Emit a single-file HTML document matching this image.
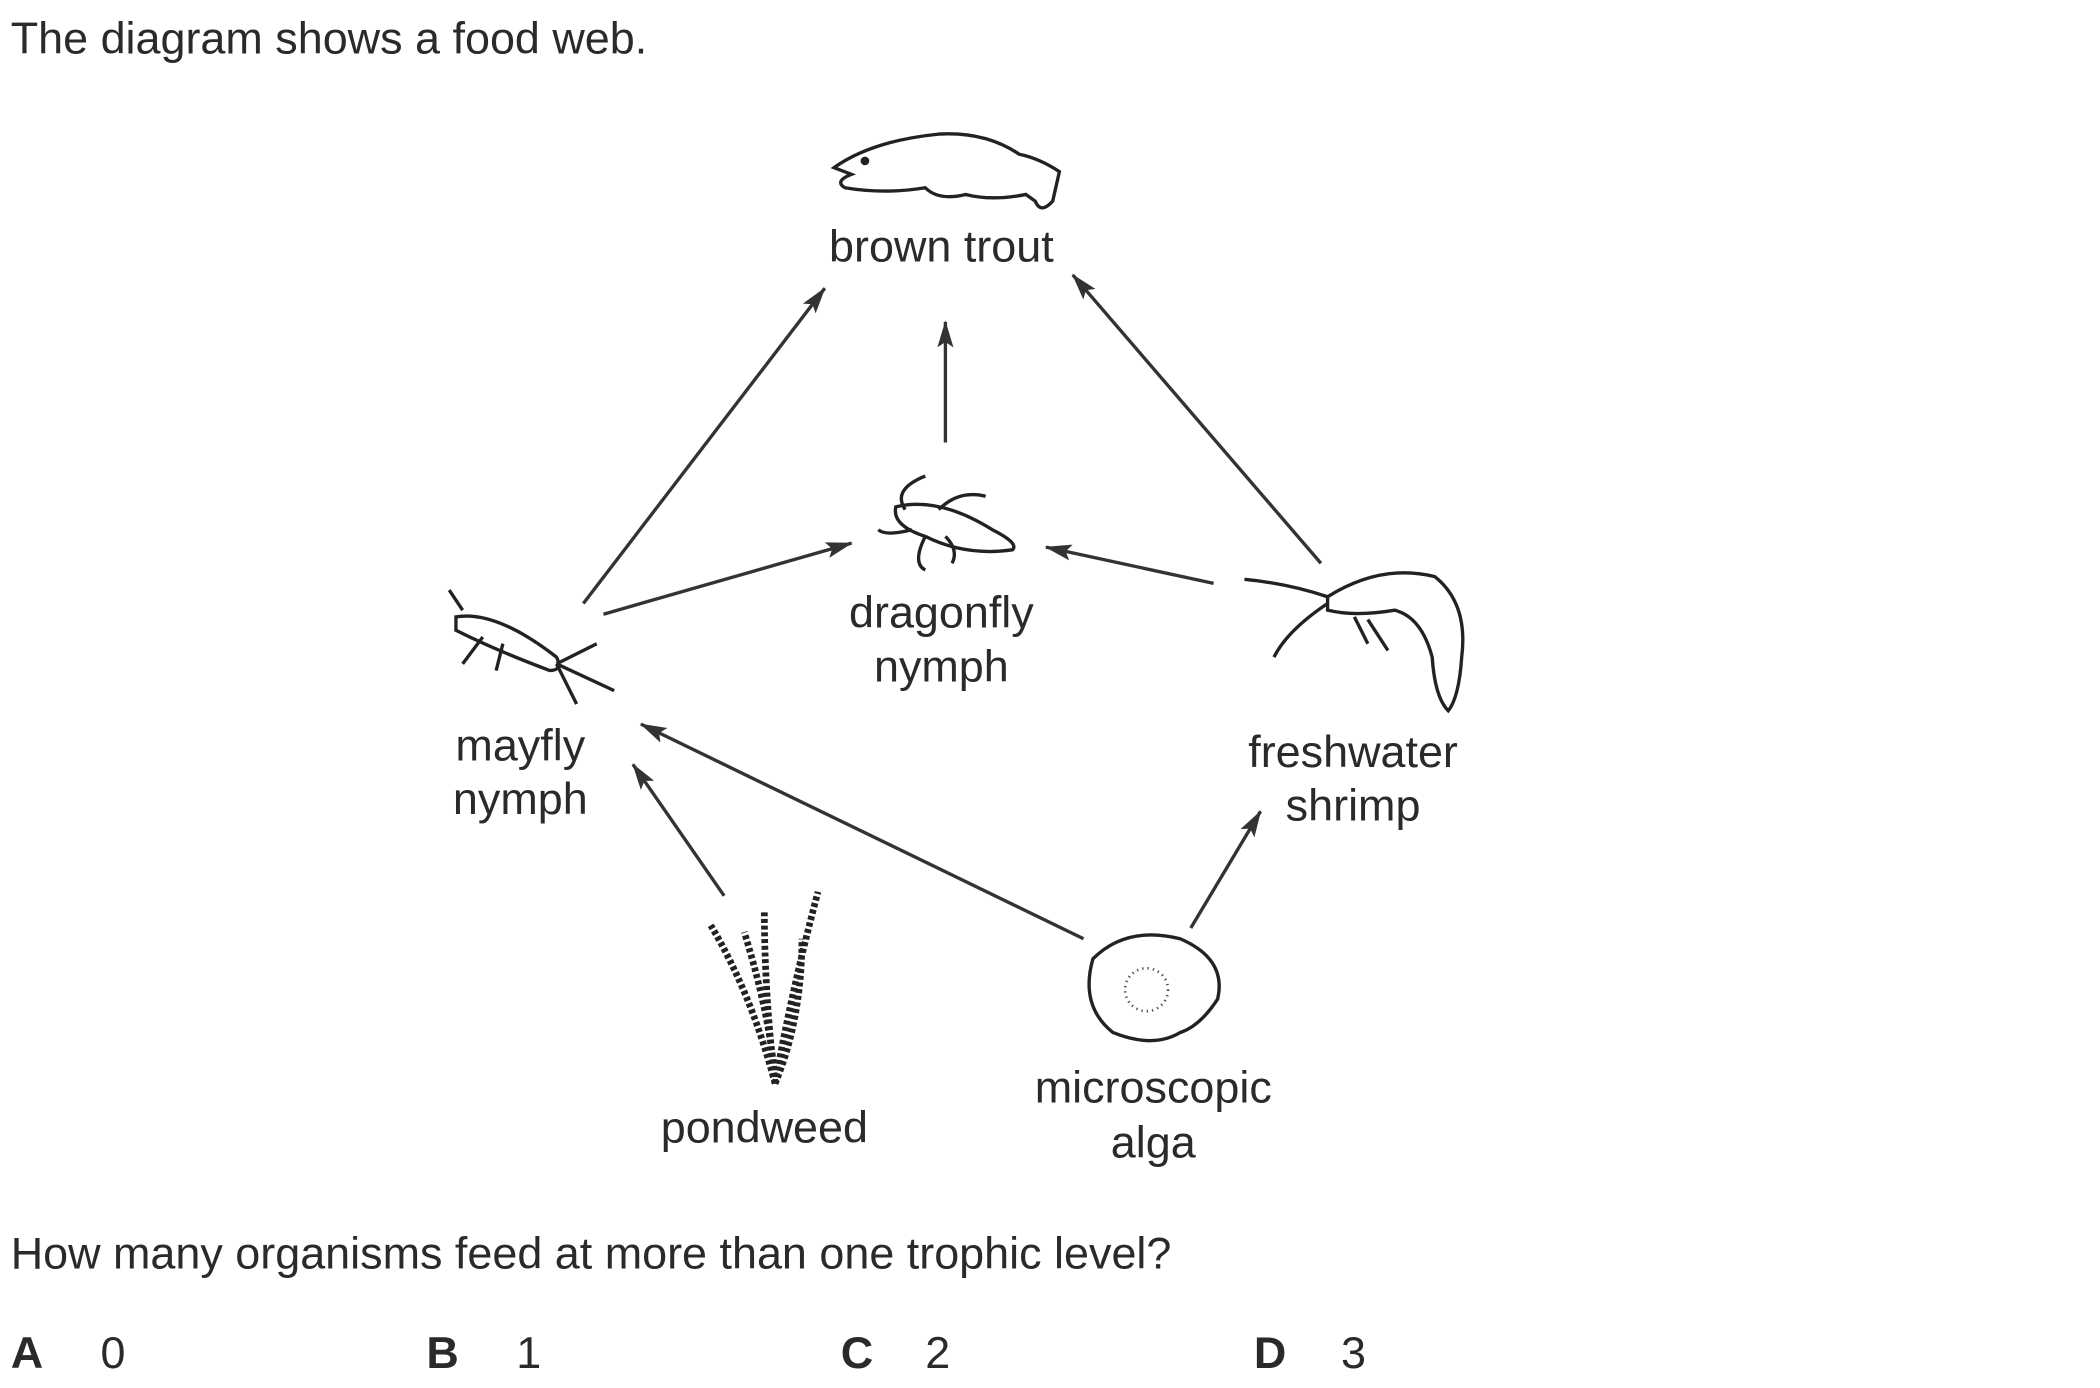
<!DOCTYPE html>
<html><head><meta charset="utf-8"><style>
html,body{margin:0;padding:0;background:#fff;}
svg{display:block;}
text{font-family:"Liberation Sans",Arial,sans-serif;fill:#2a2a2a;}
</style></head><body>
<svg id="web" width="2100" height="1388" viewBox="0 0 1566 1035" preserveAspectRatio="none">
<defs>
<marker id="ah2" viewBox="0 0 20 12" refX="19" refY="6" markerWidth="20" markerHeight="12" orient="auto" markerUnits="userSpaceOnUse"><path d="M0,0 L20,6 L0,12 L4,6 Z" fill="#333"/></marker></defs>
<text x="8" y="40" font-size="33.5">The diagram shows a food web.</text>

<g fill="#fff" stroke="#222" stroke-width="2.5">
<path d="M622,125 Q650,105 700,100 Q735,98 760,115 Q775,118 790,128 L785,150 Q776,160 772,150 L765,145 Q740,150 720,145 Q700,150 690,140 Q660,145 630,140 Q622,135 635,130 Z"/>
<circle cx="645" cy="120" r="2" fill="#222"/></g>
<g fill="#fff" stroke="#222" stroke-width="2.5">
<path d="M668,378 Q700,370 740,395 Q760,405 755,410 Q720,415 690,400 Q665,392 668,378 Z"/>
<path d="M675,380 Q665,365 690,355 M680,395 Q660,400 655,395 M690,400 Q680,420 690,425 M700,380 Q715,365 735,370 M705,400 Q715,410 710,420" fill="none"/></g>
<g fill="#fff" stroke="#222" stroke-width="2.5">
<path d="M340,460 Q370,455 415,490 Q420,500 410,500 Q370,485 340,470 Z"/>
<path d="M415,495 L458,515 M415,495 L445,480 M415,495 L430,525 M345,455 L335,440 M360,475 L345,495 M375,480 L370,500" fill="none"/></g>
<g fill="#fff" stroke="#222" stroke-width="2.5">
<path d="M990,445 Q1030,420 1070,430 Q1095,450 1090,490 Q1088,520 1080,530 Q1070,520 1068,490 Q1060,460 1040,455 Q1010,460 990,455 Z"/>
<path d="M990,450 Q960,470 950,490 M990,445 Q960,435 928,432 M1010,460 L1020,480 M1020,462 L1035,485" fill="none"/></g>
<g fill="none" stroke="#222" stroke-width="5" stroke-dasharray="3 2">
<path d="M578,808 Q560,740 530,690 M578,808 Q570,740 570,680 M578,808 Q590,740 610,665 M578,808 Q598,760 598,700 M578,808 Q575,760 555,695"/></g>
<g fill="#fff" stroke="#222" stroke-width="2.5">
<path d="M815,715 Q840,690 880,700 Q915,715 908,745 Q895,765 880,770 Q860,782 830,770 Q805,750 815,715 Z"/>
<circle cx="855" cy="738" r="16" fill="none" stroke="#555" stroke-width="2" stroke-dasharray="1 3"/></g>

<g id="arrows"></g>

<text x="702" y="195" font-size="33.5" text-anchor="middle">brown trout</text>
<text x="702" y="468" font-size="33.5" text-anchor="middle"><tspan x="702">dragonfly</tspan><tspan x="702" dy="40">nymph</tspan></text>
<text x="388" y="567" font-size="33.5" text-anchor="middle"><tspan x="388">mayfly</tspan><tspan x="388" dy="40">nymph</tspan></text>
<text x="1009" y="572" font-size="33.5" text-anchor="middle"><tspan x="1009">freshwater</tspan><tspan x="1009" dy="40">shrimp</tspan></text>
<text x="570" y="852" font-size="33.5" text-anchor="middle">pondweed</text>
<text x="860" y="822" font-size="33.5" text-anchor="middle"><tspan x="860">microscopic</tspan><tspan x="860" dy="41">alga</tspan></text>

<text x="8" y="946" font-size="33.5">How many organisms feed at more than one trophic level?</text>
<g>
<text x="8" y="1020" font-size="33.5" font-weight="bold">A</text><text x="75" y="1020" font-size="33.5">0</text>
<text x="318" y="1020" font-size="33.5" font-weight="bold">B</text><text x="385" y="1020" font-size="33.5">1</text>
<text x="627" y="1020" font-size="33.5" font-weight="bold">C</text><text x="690" y="1020" font-size="33.5">2</text>
<text x="935" y="1020" font-size="33.5" font-weight="bold">D</text><text x="1000" y="1020" font-size="33.5">3</text>
</g>
</svg>
<script>
const edgeNames=["mayfly-to-trout","dragonfly-to-trout","shrimp-to-trout","mayfly-to-dragonfly","shrimp-to-dragonfly","pondweed-to-mayfly","alga-to-mayfly","alga-to-shrimp"];
const edgeFrom=[[435,450],[705,330],[985,420],[450,458],[905,435],[540,668],[808,700],[888,692]];
const edgeTo=[[615,215],[705,240],[800,205],[635,405],[780,408],[472,570],[478,540],[940,605]];
const g=document.getElementById('arrows');
edgeNames.forEach((n,i)=>{
  const l=document.createElementNS('http://www.w3.org/2000/svg','line');
  l.setAttribute('x1',edgeFrom[i][0]);l.setAttribute('y1',edgeFrom[i][1]);
  l.setAttribute('x2',edgeTo[i][0]);l.setAttribute('y2',edgeTo[i][1]);
  l.setAttribute('stroke','#333');l.setAttribute('stroke-width','2.5');
  l.setAttribute('marker-end','url(#ah2)');
  
  
  g.appendChild(l);
});
</script>
</body></html>
